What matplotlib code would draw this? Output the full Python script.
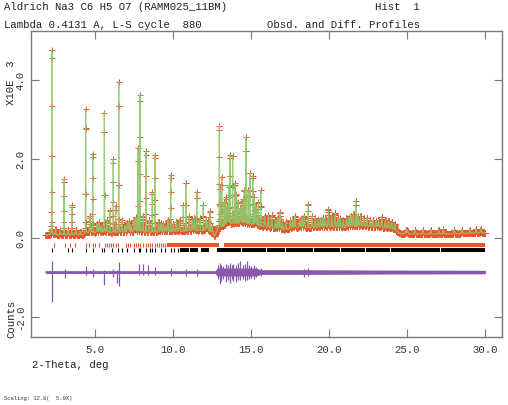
import numpy as np
import matplotlib
matplotlib.use("Agg")
import matplotlib.pyplot as plt

# ---------------- data (values in units of 10^3 counts) ----------------
peak_pos = [2.21, 2.45, 2.75, 2.99, 3.25, 3.49, 3.75, 4.05, 4.38, 4.66, 4.83, 5.10,
            5.25, 5.40, 5.58, 5.75, 5.95, 6.15, 6.30, 6.50, 6.70, 6.90, 7.05, 7.15,
            7.30, 7.48, 7.60, 7.74, 7.87, 8.05, 8.25, 8.45, 8.65, 8.83, 9.05, 9.20,
            9.35, 9.50, 9.65, 9.83, 10.00, 10.20, 10.40, 10.64, 10.80, 11.00, 11.20,
            11.35, 11.50, 11.70, 11.92, 12.10, 12.20, 12.35, 12.50,
            12.95, 13.00, 13.10, 13.25, 13.35, 13.45, 13.55, 13.63, 13.80, 13.95,
            14.05, 14.15, 14.30, 14.40, 14.49, 14.55, 14.66, 14.80, 14.92, 15.09,
            15.20, 15.30, 15.45, 15.60, 15.85, 16.09, 16.31, 16.55, 16.70, 16.84,
            17.00, 17.20, 17.50, 17.65, 17.80, 18.10, 18.25, 18.40, 18.65, 18.90,
            19.10, 19.30, 19.45, 19.60, 19.75, 19.94, 20.15, 20.37, 20.55, 20.70,
            20.90, 21.10, 21.25, 21.40, 21.55, 21.70, 21.85, 22.00, 22.20, 22.40,
            22.60, 22.80, 23.00, 23.15, 23.36, 23.60, 23.80, 24.00, 24.20, 24.90,
            25.00, 25.50, 26.00, 26.50, 27.00, 27.30, 28.00, 28.50, 29.00, 29.40,
            29.70]
peak_top = [4.76, 0.22, 0.18, 1.48, 0.20, 0.82, 0.20, 0.15, 3.26, 0.55, 2.12, 0.35,
            0.40, 0.30, 3.16, 0.45, 0.70, 1.98, 0.80, 3.94, 0.45, 0.30, 0.35, 0.40,
            0.30, 0.44, 0.50, 2.26, 3.60, 0.55, 2.19, 0.45, 1.15, 2.09, 0.40, 0.35,
            0.35, 0.30, 0.45, 1.58, 0.35, 0.40, 0.45, 0.82, 1.37, 0.55, 0.45,
            0.50, 1.15, 0.50, 0.82, 0.45, 0.40, 0.66, 0.30,
            2.82, 1.20, 1.53, 0.90, 1.00, 0.80, 1.30, 2.09, 2.06, 1.37,
            1.10, 0.90, 0.75, 0.85, 0.95, 1.20, 2.54, 1.20, 1.63, 1.56,
            1.00, 0.80, 0.90, 1.19, 0.55, 0.57, 0.57, 0.45, 0.50, 0.65,
            0.35, 0.40, 0.45, 0.45, 0.54, 0.45, 0.50, 0.55, 0.85, 0.55,
            0.50, 0.45, 0.45, 0.50, 0.50, 0.71, 0.55, 0.63, 0.50, 0.48,
            0.45, 0.50, 0.50, 0.55, 0.60, 0.92, 0.55, 0.55, 0.50, 0.50,
            0.45, 0.45, 0.42, 0.45, 0.53, 0.45, 0.42, 0.40, 0.35, 0.18,
            0.20, 0.20, 0.20, 0.20, 0.20, 0.22, 0.20, 0.20, 0.20, 0.22,
            0.22]

bg_pos = [1.80, 4.20, 4.40, 8.00, 10.0, 12.0, 12.5, 12.65, 12.85, 13.5, 14.5, 15.5,
          16.0, 17.0, 18.0, 19.0, 20.0, 21.0, 22.0, 23.0, 24.0, 24.6, 27.0, 30.0]
bg_val = [0.07, 0.07, 0.12, 0.12, 0.14, 0.17, 0.13, 0.04, 0.22, 0.33, 0.35, 0.29,
          0.25, 0.18, 0.25, 0.24, 0.25, 0.24, 0.27, 0.26, 0.22, 0.10, 0.09, 0.12]

obs_spread_pos = [1.8, 12.7, 13.0, 24.4, 24.8, 30.0]
obs_spread_half = [0.04, 0.04, 0.065, 0.065, 0.05, 0.05]

diff_base = -0.87
diff_band_pos = [1.8, 12.7, 12.8, 15.3, 15.6, 18.0, 24.0, 30.0]
diff_band_half = [0.035, 0.035, 0.10, 0.10, 0.06, 0.06, 0.05, 0.045]
diff_spike_pos = [2.21, 3.06, 4.38, 4.83, 5.58, 6.15, 6.37, 6.50, 7.82, 8.08, 8.40,
                  8.80, 9.85, 10.80, 11.50, 12.85, 12.97, 13.05, 13.20, 13.35, 13.50,
                  13.63, 13.75, 13.85, 14.00, 14.15, 14.27, 14.45, 14.60, 14.70, 14.85,
                  15.00, 15.15, 15.30, 15.60, 18.40, 18.65]
diff_spike_lo = [-1.64, -1.02, -0.95, -1.00, -1.21, -1.00, -1.15, -1.22, -0.95, -0.95, -0.95,
                 -0.95, -0.98, -0.98, -0.97, -1.05, -1.17, -1.10, -1.05, -1.12, -1.08,
                 -1.15, -1.05, -1.10, -1.12, -1.06, -1.08, -1.04, -1.10, -1.08, -1.05,
                 -1.02, -1.04, -1.00, -0.98, -1.00, -0.98]
diff_spike_hi = [-0.58, -0.80, -0.72, -0.80, -0.82, -0.78, -0.82, -0.61, -0.66, -0.66, -0.68,
                 -0.73, -0.76, -0.78, -0.78, -0.70, -0.65, -0.68, -0.72, -0.66, -0.70,
                 -0.64, -0.70, -0.66, -0.68, -0.65, -0.60, -0.68, -0.66, -0.60, -0.70,
                 -0.72, -0.70, -0.74, -0.76, -0.78, -0.76]

red_ticks = [2.35, 3.06, 3.38, 3.70, 4.38, 4.60, 4.83, 4.98, 5.26, 5.62, 5.73, 5.88,
             6.00, 6.15, 6.33, 6.47, 6.97, 7.10, 7.25, 7.48, 7.60, 7.74, 7.87, 8.05,
             8.25, 8.40, 8.52, 8.65, 8.83, 8.95, 9.10, 9.22, 9.35, 9.48]
red_bands = [(9.60, 12.95), (13.25, 30.0)]
black_ticks = [2.20, 3.27, 3.49, 4.38, 4.87, 5.41, 5.58, 6.05, 6.47, 6.69, 7.05, 7.48,
               7.78, 7.87, 8.25, 8.50, 8.65, 8.83, 9.20, 9.45, 9.83, 10.05, 10.30]
black_bands = [(10.40, 11.00), (11.10, 11.60), (11.80, 12.30), (12.80, 14.35),
               (14.42, 15.95), (16.02, 17.13), (17.20, 18.94), (19.01, 20.66),
               (20.73, 22.26), (22.33, 23.87), (23.94, 27.07), (27.14, 30.0)]

x_ticks = [5, 10, 15, 20, 25, 30]
x_ticklabels = ["5.0", "10.0", "15.0", "20.0", "25.0", "30.0"]
y_ticks = [-2, 0, 2, 4]
y_ticklabels = ["-2.0", "0.0", "2.0", "4.0"]


# ---------------- profile built from the peak list ----------------
def profile(tt):
    out = np.interp(tt, bg_pos, bg_val)
    for p, t in zip(peak_pos, peak_top):
        amp = t - np.interp(p, bg_pos, bg_val)
        w = 0.008 if amp > 0.5 else 0.025
        d = (tt - p) / w
        out = out + amp * (0.5 * np.exp(-0.5 * d ** 2) + 0.5 / (1 + d ** 2))
    return out


tt_calc = np.sort(np.concatenate([np.arange(1.80, 30.0005, 0.002), peak_pos]))
calc = profile(tt_calc)
tt_obs = np.sort(np.concatenate([np.arange(1.80, 30.0005, 0.008), peak_pos]))
obs = profile(tt_obs)
spread = np.interp(tt_calc, obs_spread_pos, obs_spread_half)
dband = np.interp(tt_calc, diff_band_pos, diff_band_half)

# ---------------- style ----------------
MONO = "Liberation Mono"
RED = "#e8552b"
GREEN = "#8fc86c"
PURPLE = "#8a58a8"
FRAME = "#7a7a7a"
FS = 7.7

fig = plt.figure(figsize=(5.08, 4.06), dpi=100)
ax = fig.add_axes([31 / 508, 68 / 406, 471 / 508, 306 / 406])

ax.fill_between(tt_calc, calc - spread, calc + spread, color=RED, lw=0, zorder=1)
ax.plot(tt_obs, obs, "+", ms=4.5, mew=0.7, color=RED, zorder=2)
ax.plot(tt_calc, calc, "-", lw=0.9, color=GREEN, zorder=3, alpha=0.9)

ax.vlines(red_ticks, -0.245, -0.135, color=RED, lw=0.8)
ax.broken_barh([(a, b - a) for a, b in red_bands], (-0.245, 0.11), color=RED, lw=0)
ax.vlines(black_ticks, -0.37, -0.26, color="black", lw=0.8)
ax.broken_barh([(a, b - a) for a, b in black_bands], (-0.37, 0.11), color="black", lw=0)

ax.fill_between(tt_calc, diff_base - dband, diff_base + dband, color=PURPLE, lw=0)
ax.plot(tt_calc, np.full_like(tt_calc, diff_base), lw=0.6, color=PURPLE)
ax.vlines(diff_spike_pos, diff_spike_lo, diff_spike_hi, color=PURPLE, lw=0.9)

ax.set_xlim(0.878, 31.07)
ax.set_ylim(-2.514, 5.233)
ax.set_xticks(x_ticks)
ax.set_xticklabels(x_ticklabels, family=MONO, fontsize=FS, color="#333333")
ax.set_yticks(y_ticks)
ax.set_yticklabels(y_ticklabels, family=MONO, fontsize=FS, color="#333333",
                   rotation=90, va="center")
ax.tick_params(direction="in", length=5.5, width=0.8, color=FRAME,
               top=True, right=True)
ax.tick_params(axis="x", pad=5)
ax.tick_params(axis="y", pad=4)
for s in ax.spines.values():
    s.set_color(FRAME)
    s.set_linewidth(1.0)

tk = dict(family=MONO, fontsize=FS, color="#222222", va="center", ha="left")
fig.text(4 / 508, 1 - 7.5 / 406, "Aldrich Na3 C6 H5 O7 (RAMM025_11BM)", **tk)
fig.text(375 / 508, 1 - 7.5 / 406, "Hist  1", **tk)
fig.text(4 / 508, 1 - 24.5 / 406, "Lambda 0.4131 A, L-S cycle  880", **tk)
fig.text(267 / 508, 1 - 24.5 / 406, "Obsd. and Diff. Profiles", **tk)
fig.text(31.5 / 508, 1 - 365 / 406, "2-Theta, deg", **tk)
fig.text(11 / 508, 1 - 83 / 406, "X10E  3", family=MONO, fontsize=FS, color="#222222",
         rotation=90, ha="center", va="center")
fig.text(11 / 508, 1 - 319 / 406, "Counts", family=MONO, fontsize=FS, color="#222222",
         rotation=90, ha="center", va="center")
fig.text(4 / 508, 1 - 399 / 406, "Scaling: 12.8(  5.0X)", family=MONO, fontsize=4.0,
         color="#333333", va="center", ha="left")

fig.savefig("out.png", dpi=100)
